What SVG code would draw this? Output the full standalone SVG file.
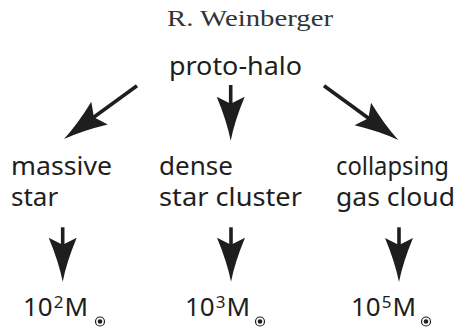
<svg xmlns="http://www.w3.org/2000/svg" width="462" height="328" viewBox="0 0 462 328">
<style>
.t{font-family:"Noto Sans","Open Sans",sans-serif;font-size:26px;fill:#1e1e1e}
.s{font-family:"Noto Sans","Open Sans",sans-serif;font-size:17px;fill:#1e1e1e}
.au{font-family:"Liberation Serif",serif;font-size:24px;fill:#333}
.ln{stroke:#1e1e1e;stroke-width:3.6;fill:none}
.hd{fill:#1e1e1e}
</style>
<defs>
<path id="head" d="M0,0 Q-4,-20 -14,-44 L0,-37 L14,-44 Q4,-20 0,0 Z"/>
<g id="sun"><circle r="4.5" fill="none" stroke="#1e1e1e" stroke-width="1.2"/><circle r="2.3" fill="#1e1e1e"/></g>
</defs>
<rect width="462" height="328" fill="#fff"/>
<text class="au" x="167" y="26" textLength="166" lengthAdjust="spacingAndGlyphs">R. Weinberger</text>
<g id="proto-halo"><text class="t" x="169" y="75" textLength="133" lengthAdjust="spacingAndGlyphs">proto-halo</text></g>
<g id="massive-star">
<text class="t" x="11" y="175" textLength="101" lengthAdjust="spacingAndGlyphs">massive</text>
<text class="t" x="11" y="206">star</text>
</g>
<g id="dense-star-cluster">
<text class="t" x="159" y="175">dense</text>
<text class="t" x="159" y="206" textLength="143" lengthAdjust="spacingAndGlyphs">star cluster</text>
</g>
<g id="collapsing-gas-cloud">
<text class="t" x="336" y="175" textLength="113" lengthAdjust="spacingAndGlyphs">collapsing</text>
<text class="t" x="336" y="206" textLength="119" lengthAdjust="spacingAndGlyphs">gas cloud</text>
</g>
<g id="mass1"><text class="t" x="23" y="316">10<tspan class="s" dy="-8" dx="1">2</tspan><tspan dy="8" dx="1">M</tspan></text><use href="#sun" x="100" y="321.5"/></g>
<g id="mass2"><text class="t" x="185" y="316">10<tspan class="s" dy="-8" dx="1">3</tspan><tspan dy="8" dx="1">M</tspan></text><use href="#sun" x="260" y="321.5"/></g>
<g id="mass3"><text class="t" x="351" y="316">10<tspan class="s" dy="-8" dx="1">5</tspan><tspan dy="8" dx="1">M</tspan></text><use href="#sun" x="426" y="321.5"/></g>
<g id="connectors">
<line class="ln" x1="137" y1="85.7" x2="88.2" y2="121.3"/>
<use class="hd" href="#head" transform="translate(64,139) rotate(53.9)"/>
<line class="ln" x1="230.7" y1="85" x2="230.7" y2="110"/>
<use class="hd" href="#head" transform="translate(230.7,140.7)"/>
<line class="ln" x1="324" y1="85.7" x2="374.1" y2="122.3"/>
<use class="hd" href="#head" transform="translate(398.3,140) rotate(-53.8)"/>
<line class="ln" x1="62.7" y1="227.3" x2="62.7" y2="252"/>
<use class="hd" href="#head" transform="translate(62.7,281.7)"/>
<line class="ln" x1="231" y1="227.3" x2="231" y2="252"/>
<use class="hd" href="#head" transform="translate(231,281.7)"/>
<line class="ln" x1="399" y1="227.3" x2="399" y2="252"/>
<use class="hd" href="#head" transform="translate(399,282)"/>
</g>
</svg>
